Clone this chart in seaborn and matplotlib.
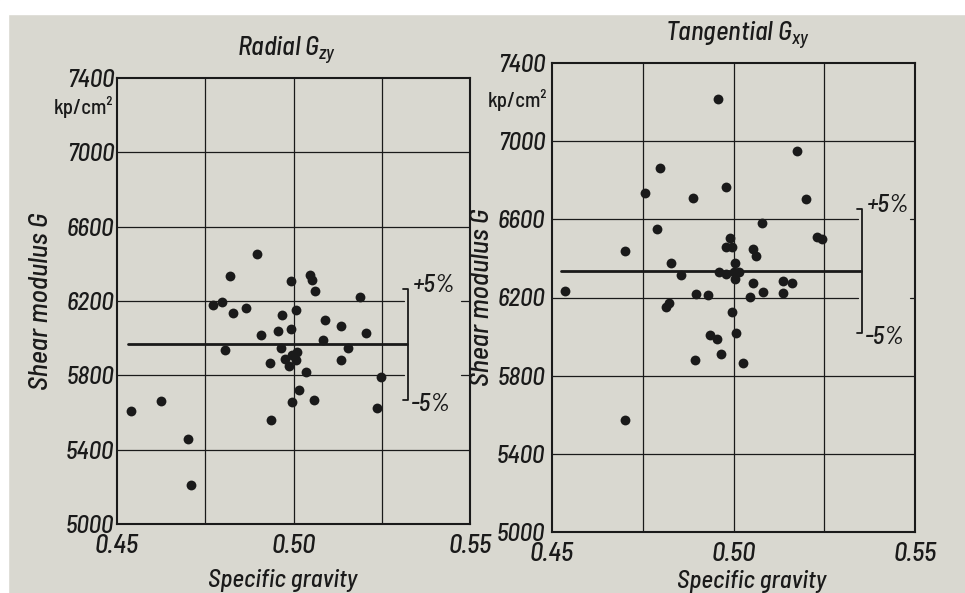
import matplotlib
matplotlib.use("Agg")
import matplotlib.pyplot as plt
import seaborn as sns
import pandas as pd
from matplotlib.patches import Rectangle

# ---------------- data ----------------
radial_sg = [0.4821, 0.4994, 0.5048, 0.5053, 0.5062, 0.5187, 0.4771, 0.4798, 0.4829, 0.4866,
             0.4967, 0.5006, 0.5090, 0.5134, 0.5206, 0.4907, 0.4955, 0.4992, 0.5084, 0.4805,
             0.4964, 0.5153, 0.5010, 0.4996, 0.4977, 0.5006, 0.4987, 0.4934, 0.5134, 0.5035,
             0.5249, 0.5016, 0.4996, 0.5059, 0.5237, 0.4937, 0.4540, 0.4625, 0.4701, 0.4709,
             0.4898]
radial_g = [6332, 6305, 6341, 6314, 6254, 6223, 6179, 6195, 6135, 6160,
            6123, 6153, 6100, 6065, 6028, 6017, 6040, 6047, 5989, 5938,
            5947, 5947, 5928, 5910, 5889, 5884, 5850, 5864, 5882, 5818,
            5789, 5722, 5655, 5667, 5625, 5557, 5609, 5662, 5457, 5211,
            6455]

tangential_sg = [0.4956, 0.5176, 0.4797, 0.4978, 0.4755, 0.4889, 0.5201, 0.5079, 0.4788, 0.4991,
                 0.4978, 0.4996, 0.5054, 0.5062, 0.5231, 0.5243, 0.4702, 0.4827, 0.5004, 0.4855,
                 0.4959, 0.4978, 0.5002, 0.5016, 0.5005, 0.5053, 0.5136, 0.5161, 0.4537, 0.4898,
                 0.4931, 0.5045, 0.5082, 0.5135, 0.4821, 0.4815, 0.4996, 0.5008, 0.4935, 0.4954,
                 0.5027, 0.4895, 0.4965, 0.4700]
tangential_g = [7218, 6952, 6865, 6766, 6735, 6707, 6704, 6583, 6552, 6505,
                6460, 6460, 6446, 6410, 6512, 6500, 6439, 6378, 6375, 6313,
                6330, 6319, 6332, 6332, 6297, 6276, 6283, 6276, 6235, 6219,
                6212, 6205, 6226, 6224, 6171, 6150, 6124, 6018, 6008, 5990,
                5867, 5880, 5913, 5575]

radial_mean = 5968
tangential_mean = 6337
tolerance = 0.05

x_ticks = [0.45, 0.50, 0.55]
x_tick_labels = ["0.45", "0.50", "0.55"]
x_grid = [0.475, 0.50, 0.525]
y_ticks = [5000, 5400, 5800, 6200, 6600, 7000, 7400]
y_tick_labels = ["5000", "5400", "5800", "6200", "6600", "7000", "7400"]
titles = [r"Radial $G_{zy}$", r"Tangential $G_{xy}$"]
y_label = "Shear modulus G"
x_label = "Specific gravity"
unit_label = "kp/cm²"

# ---------------- style ----------------
sns.set_style("white")
FONT = "Barlow Semi Condensed"
plt.rcParams["font.family"] = [FONT, "DejaVu Sans"]
plt.rcParams["font.stretch"] = "condensed"
plt.rcParams["font.weight"] = "medium"
plt.rcParams["axes.labelweight"] = "medium"
plt.rcParams["mathtext.fontset"] = "custom"
plt.rcParams["mathtext.it"] = FONT + ":italic:medium"
plt.rcParams["mathtext.rm"] = FONT + ":italic:medium"
plt.rcParams["mathtext.default"] = "it"

paper = "#d9d8d0"
ink = "#1a1a1a"

fig = plt.figure(figsize=(9.65, 5.93), dpi=100, facecolor=paper)
fig.patches.append(Rectangle((0, 1 - 14 / 593), 1, 14 / 593, transform=fig.transFigure,
                             color="white", zorder=-1))
fig.patches.append(Rectangle((0, 0), 8 / 965, 1, transform=fig.transFigure,
                             color="white", zorder=-1))

ax1 = fig.add_axes([117 / 965, 1 - 524 / 593, 353 / 965, 446 / 593])
ax2 = fig.add_axes([552 / 965, 1 - 532 / 593, 363 / 965, 469 / 593])


def panel(ax, sg, g, mean, title, line_start, bracket_x, gap_end, title_x,
          title_y, unit_y, ylab_x, xlab_x, xlab_y, ypad, xpad, xlab_size):
    ax.set_facecolor("none")
    df = pd.DataFrame({"sg": sg, "G": g})
    sns.scatterplot(data=df, x="sg", y="G", ax=ax, color=ink, s=50,
                    linewidth=0, zorder=4, legend=False)
    ax.set_xlim(0.45, 0.55)
    ax.set_ylim(5000, 7400)

    hi, lo = mean * (1 + tolerance), mean * (1 - tolerance)
    for xv in x_grid:
        ax.axvline(xv, color=ink, lw=0.9, zorder=1)
    for yv in y_ticks[1:-1]:
        if lo < yv < hi:
            ax.plot([0.45, bracket_x - 0.0012], [yv, yv], color=ink, lw=0.9, zorder=1)
            ax.plot([gap_end, 0.55], [yv, yv], color=ink, lw=0.9, zorder=1)
        else:
            ax.axhline(yv, color=ink, lw=0.9, zorder=1)

    ax.plot([line_start, bracket_x - 0.0003], [mean, mean], color=ink, lw=2.0, zorder=3)
    ax.plot([bracket_x - 0.0015, bracket_x, bracket_x, bracket_x - 0.0015],
            [hi, hi, lo, lo], color=ink, lw=1.3, zorder=3)
    ax.text(bracket_x + 0.0012, hi + 15, "+5%", ha="left", va="center",
            fontsize=18, style="italic", color=ink)
    ax.text(bracket_x + 0.0008, lo - 25, "-5%", ha="left", va="center",
            fontsize=18, style="italic", color=ink)

    for sp in ax.spines.values():
        sp.set_visible(True)
        sp.set_color(ink)
        sp.set_linewidth(1.5)

    ax.set_xticks(x_ticks)
    ax.set_xticklabels(x_tick_labels, fontsize=19, fontstyle="italic", color=ink)
    ax.set_yticks(y_ticks)
    ax.set_yticklabels(y_tick_labels, fontsize=18, fontstyle="italic", color=ink)
    ax.tick_params(axis="y", length=0, pad=ypad)
    ax.tick_params(axis="x", length=0, pad=xpad)

    ax.set_xlabel(x_label, fontsize=xlab_size, fontstyle="italic", color=ink)
    ax.xaxis.set_label_coords(xlab_x, xlab_y)
    ax.set_ylabel(y_label, fontsize=20, fontstyle="italic", color=ink)
    ax.yaxis.set_label_coords(ylab_x, 0.5)

    ax.text(title_x, title_y, title, transform=ax.transAxes, ha="center",
            va="center", fontsize=19, style="italic", color=ink)
    ax.text(-0.012, unit_y, unit_label, transform=ax.transAxes, ha="right",
            va="center", fontsize=15, style="normal", color=ink)


panel(ax1, radial_sg, radial_g, radial_mean, titles[0], line_start=0.4532,
      bracket_x=0.5325, gap_end=0.5475, title_x=0.48, title_y=1.063,
      unit_y=0.935, ylab_x=-0.18, xlab_x=0.47, xlab_y=-0.1, ypad=2, xpad=7,
      xlab_size=18)
panel(ax2, tangential_sg, tangential_g, tangential_mean, titles[1], line_start=0.4526,
      bracket_x=0.5355, gap_end=0.5485, title_x=0.51, title_y=1.06,
      unit_y=0.921, ylab_x=-0.16, xlab_x=0.55, xlab_y=-0.082, ypad=5, xpad=7,
      xlab_size=18)

fig.savefig("out.png", dpi=100, facecolor=paper)
